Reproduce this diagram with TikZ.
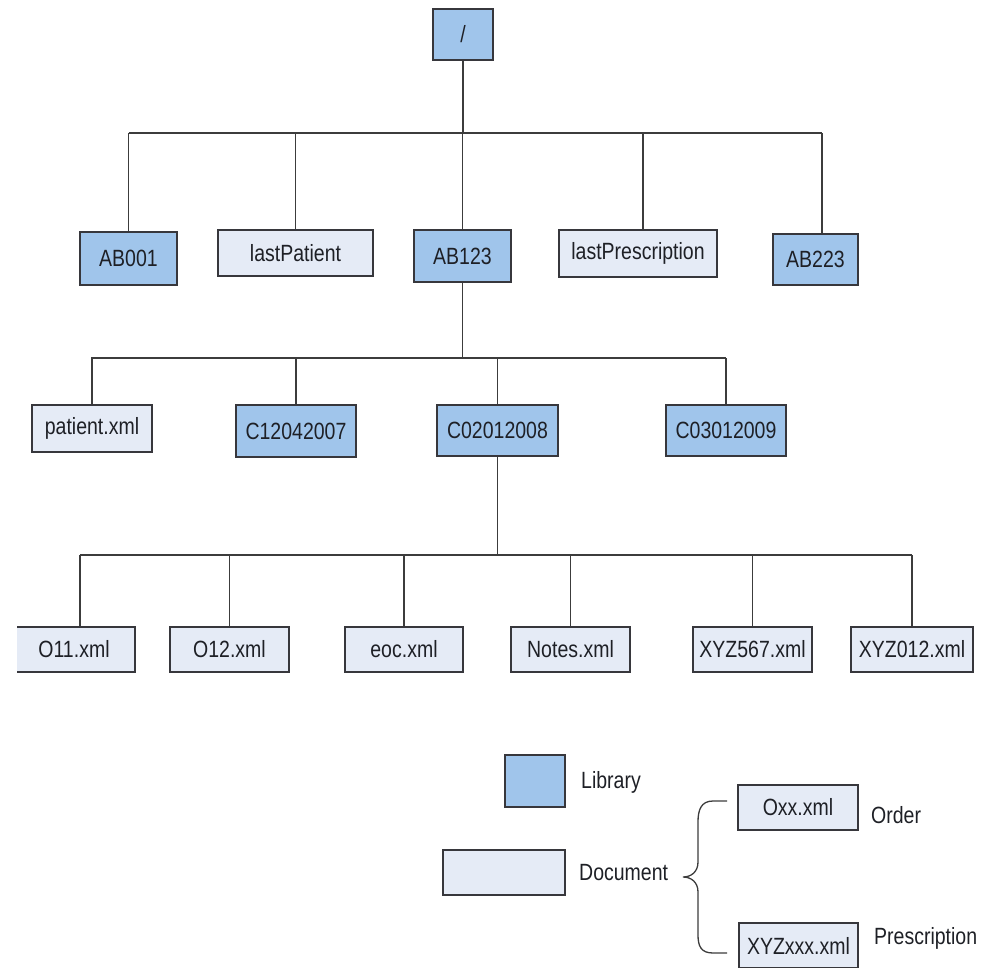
\documentclass[tikz,border=0pt]{standalone}
\usepackage{fontspec}
\setmainfont{Liberation Sans}[FakeStretch=0.83]
\begin{document}
\begin{tikzpicture}[x=1pt,y=-1pt,
  every node/.style={font=\fontsize{23.5}{26}\selectfont, text=textgray, inner sep=0pt},
  box/.style={draw=bordergray, line width=1.6pt, anchor=center},
  lib/.style={box, fill=libblue},
  doc/.style={box, fill=docblue},
  wire/.style={draw=linegray, line width=1.4pt},
  lbl/.style={anchor=west}]
\definecolor{libblue}{RGB}{160,197,235}
\definecolor{docblue}{RGB}{229,235,246}
\definecolor{bordergray}{RGB}{55,55,60}
\definecolor{linegray}{RGB}{60,60,60}
\definecolor{textgray}{RGB}{30,32,38}
\useasboundingbox (0,0) rectangle (985,967);
\clip (0,0) rectangle (985,967);

% root
\node[lib, minimum width=60pt, minimum height=51pt] (root) at (463,34.5) {/};

% first level
\node[lib, minimum width=97pt, minimum height=53pt] (ab001) at (128.5,258.5) {AB001};
\node[doc, minimum width=155pt, minimum height=46pt] (lastpat) at (295.5,253) {lastPatient};
\node[lib, minimum width=97pt, minimum height=52pt] (ab123) at (462.5,256) {AB123};
\node[doc, minimum width=158pt, minimum height=47pt] (lastpre) at (638,253.5) {lastPrescription};
\node[lib, minimum width=85pt, minimum height=51pt] (ab223) at (815.5,259.5) {AB223};

% second level
\node[doc, minimum width=120pt, minimum height=47pt] (patient) at (92,428.5) {patient.xml};
\node[lib, minimum width=120pt, minimum height=52pt] (c120) at (296,431) {C12042007};
\node[lib, minimum width=121pt, minimum height=51pt] (c020) at (497.5,430.5) {C02012008};
\node[lib, minimum width=120pt, minimum height=51pt] (c030) at (726,430.5) {C03012009};

% third level
\begin{scope}
\clip (17,0) rectangle (985,967);
\node[doc, minimum width=122pt, minimum height=45pt] (o11) at (74,649.5) {O11.xml};
\end{scope}
\node[doc, minimum width=119pt, minimum height=45pt] (o12) at (229.5,649.5) {O12.xml};
\node[doc, minimum width=118pt, minimum height=45pt] (eoc) at (404,649.5) {eoc.xml};
\node[doc, minimum width=119pt, minimum height=45pt] (notes) at (570.5,649.5) {Notes.xml};
\node[doc, minimum width=119pt, minimum height=45pt] (x567) at (752.5,649.5) {XYZ567.xml};
\node[doc, minimum width=122pt, minimum height=45pt] (x012) at (912,649.5) {XYZ012.xml};

% bus lines
\coordinate (bus1) at (463,133);
\coordinate (bus2) at (463,358);
\coordinate (bus3) at (499,555);

\draw[wire] (root.south) -- (bus1);
\draw[wire] (bus1 -| ab001.north) -- ([xshift=6.5pt]bus1 -| ab223.north);
\foreach \n in {ab001,lastpat,ab123}
  \draw[wire] (\n.north) -- (\n.north |- bus1);
\draw[wire] ([xshift=5pt]lastpre.north) -- ([xshift=5pt]lastpre.north |- bus1);
\draw[wire] ([xshift=6.5pt]ab223.north) -- ([xshift=6.5pt]ab223.north |- bus1);

\draw[wire] (ab123.south) -- (ab123.south |- bus2);
\draw[wire] ([xshift=-1pt]bus2 -| patient.north) -- (bus2 -| c030.north);
\foreach \n in {patient,c120,c020,c030}
  \draw[wire] (\n.north) -- (\n.north |- bus2);

\draw[wire] (c020.south) -- (c020.south |- bus3);
\draw[wire] ([xshift=6pt]bus3 -| o11.north) -- (bus3 -| x012.north);
\draw[wire] ([xshift=6pt]o11.north) -- ([xshift=6pt]o11.north |- bus3);
\foreach \n in {o12,eoc,notes,x567,x012}
  \draw[wire] (\n.north) -- (\n.north |- bus3);

% legend
\node[lib, minimum width=60pt, minimum height=52pt] (leglib) at (535,781) {};
\node[lbl] (leglibt) at (581,782) {Library};
\node[doc, minimum width=122pt, minimum height=45pt] (legdoc) at (504,872.5) {};
\node[lbl] (legdoct) at (579,873) {Document};
\node[doc, minimum width=120pt, minimum height=45pt] (oxx) at (798,807.5) {Oxx.xml};
\node[lbl] (ordert) at (871,815) {Order};
\node[doc, minimum width=119pt, minimum height=45pt] (xyzxxx) at (798.5,945.5) {XYZxxx.xml};
\node[lbl] (prest) at (874,938) {Prescription};

% curly brace grouping the two document kinds
\draw[wire, line width=1.3pt] (727,801) -- (713,801)
  .. controls (701,801) and (698,810) .. (698,822) -- (698,862)
  .. controls (698,872) and (691,877) .. (683,877)
  .. controls (691,877) and (698,882) .. (698,892) -- (698,935)
  .. controls (698,946) and (701,953) .. (713,953) -- (727,953);
\end{tikzpicture}
\end{document}
